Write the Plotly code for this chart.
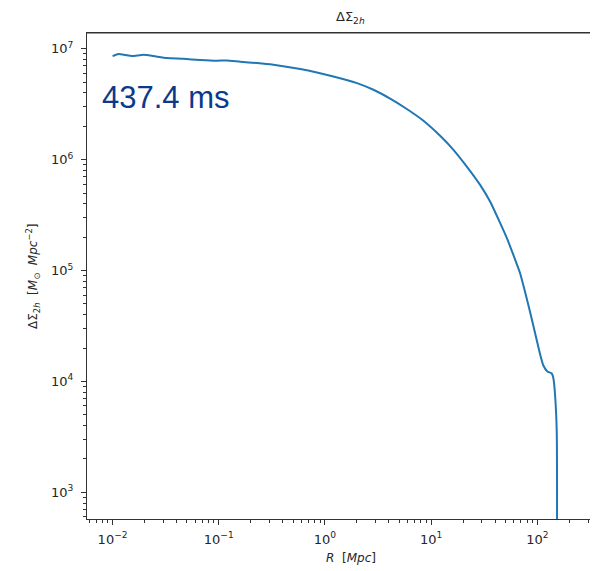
import plotly.graph_objects as go

# Data (R in Mpc, DeltaSigma_2h in Msun/Mpc^2)
R_mpc = [0.0100, 0.0114, 0.0132, 0.0152, 0.0196, 0.0243, 0.0325, 0.0466, 0.0668,
         0.0961, 0.119, 0.159, 0.229, 0.327, 0.585, 0.839, 1.20, 2.00, 2.86,
         4.11, 5.90, 8.46, 12.14, 16.20, 21.65, 28.89, 35.87, 44.56, 51.52, 59.43,
         68.74, 76.62, 85.37, 95.15, 106.0, 113.9, 124.2, 136.6, 141.4, 146.8,
         152.3, 153.0]
dsigma_2h = [8.59e6, 8.96e6, 8.77e6, 8.59e6, 8.83e6, 8.59e6, 8.24e6, 8.12e6, 7.91e6,
             7.79e6, 7.84e6, 7.63e6, 7.43e6, 7.17e6, 6.56e6, 6.11e6, 5.62e6, 4.90e6, 4.27e6,
             3.55e6, 2.86e6, 2.24e6, 1.64e6, 1.226e6, 8.66e5, 5.92e5, 4.19e5, 2.69e5, 1.97e5, 1.383e5,
             9.45e4, 6.41e4, 4.23e4, 2.73e4, 1.767e4, 1.391e4, 1.229e4, 1.179e4, 1.073e4, 7.54e3,
             3.42e3, 1.0e2]

x_tickvals = [1e-2, 1e-1, 1e0, 1e1, 1e2]
x_ticktext = ["10<sup>−2</sup>", "10<sup>−1</sup>", "10<sup>0</sup>", "10<sup>1</sup>", "10<sup>2</sup>"]
y_tickvals = [1e3, 1e4, 1e5, 1e6, 1e7]
y_ticktext = ["10<sup>3</sup>", "10<sup>4</sup>", "10<sup>5</sup>", "10<sup>6</sup>", "10<sup>7</sup>"]
timing_label = "437.4 ms"

x_minor = [m * 10 ** k for k in range(-3, 3) for m in range(2, 10)]
y_minor = [m * 10 ** k for k in range(2, 8) for m in range(2, 10)]

FONT = "DejaVu Sans"
TXT = "#262626"

fig = go.Figure()
fig.add_trace(go.Scatter(x=R_mpc, y=dsigma_2h, mode="lines",
                         line=dict(color="#1f77b4", width=2, shape="spline", smoothing=0.5),
                         showlegend=False))

axis_common = dict(
    type="log", showgrid=False, zeroline=False, showline=True, linecolor="#333333",
    linewidth=1, ticks="outside", ticklen=5, tickwidth=1, tickcolor="#333333",
    tickfont=dict(family=FONT, size=13, color=TXT),
)

fig.update_xaxes(**axis_common, range=[-2.241, 2.571], tickmode="array",
                 tickvals=x_tickvals, ticktext=x_ticktext, mirror=True, ticklabelstandoff=3,
                 minor=dict(tickmode="array", tickvals=x_minor, ticks="outside",
                            ticklen=3, tickwidth=1, tickcolor="#333333", showgrid=False))
fig.update_yaxes(**axis_common, range=[2.759, 7.142], tickmode="array",
                 tickvals=y_tickvals, ticktext=y_ticktext, mirror=False, ticklabelstandoff=5,
                 minor=dict(tickmode="array", tickvals=y_minor, ticks="outside",
                            ticklen=3, tickwidth=1, tickcolor="#333333", showgrid=False))

# top spine
fig.add_shape(type="line", xref="paper", yref="paper", x0=0, x1=1, y0=1, y1=1,
              line=dict(color="#333333", width=1))

fig.add_annotation(text="ΔΣ<sub>2<i>h</i></sub>", xref="paper", yref="paper",
                   x=0.5166, y=1.031, xanchor="center", yanchor="middle", showarrow=False,
                   font=dict(family=FONT, size=13, color=TXT))
fig.add_annotation(text="<i>R</i>  [<i>Mpc</i>]", xref="paper", yref="paper",
                   x=0.5166, y=-0.080, xanchor="center", yanchor="middle", showarrow=False,
                   font=dict(family=FONT, size=12, color=TXT))
fig.add_annotation(text="ΔΣ<sub>2<i>h</i></sub>  [<i>M</i><sub>⊙</sub>  <i>Mpc</i><sup>−2</sup>]",
                   xref="paper", yref="paper", x=-0.1057, y=0.5, textangle=-90,
                   xanchor="center", yanchor="middle",
                   showarrow=False, font=dict(family=FONT, size=12, color=TXT))
fig.add_annotation(text=timing_label, xref="paper", yref="paper",
                   x=0.025, y=0.868, xanchor="left", yanchor="middle", showarrow=False,
                   font=dict(family="Liberation Sans, Arial", size=31, color="#0b3a8c"))

# page body has an 8px margin, so the figure is sized/offset to compensate
fig.update_layout(width=590, height=563, margin=dict(l=79, r=0, t=25, b=52),
                  plot_bgcolor="white", paper_bgcolor="white")

fig.write_html("out.html")
